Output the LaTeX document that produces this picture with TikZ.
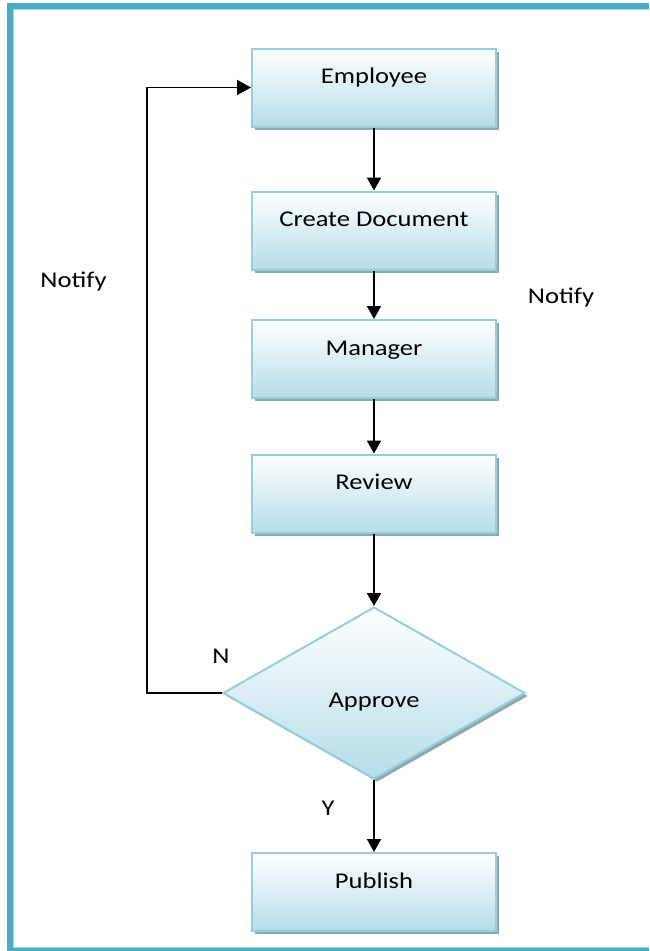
\documentclass[tikz,border=0pt]{standalone}
\usepackage{fontspec}
\setmainfont{Carlito}
\usetikzlibrary{arrows.meta,shadows,shapes.geometric}
\definecolor{framec}{HTML}{4BACC6}
\definecolor{framel}{HTML}{A8D8E4}
\definecolor{boxb}{HTML}{95CEDD}
\definecolor{boxbot}{HTML}{B6DDE8}
\definecolor{shc}{HTML}{8FA8AF}
\newcommand\wtxt[1]{\scalebox{1.18}[1]{#1}}
\begin{document}
\begin{tikzpicture}[x=1pt,y=-1pt,
  txt/.style={font=\fontsize{22.5}{27}\selectfont, inner sep=0pt, anchor=base},
  stepbox/.style={draw=boxb, line width=2pt, top color=white, bottom color=boxbot,
    minimum width=244pt, minimum height=78pt, inner sep=0pt,
    text height=10pt, text depth=18pt, font=\fontsize{22.5}{27}\selectfont,
    drop shadow={shadow xshift=3pt, shadow yshift=-3pt, opacity=1, fill=shc}},
  decision/.style={diamond, draw=boxb, line width=2pt, top color=white, bottom color=boxbot,
    minimum width=302pt, minimum height=172pt, inner sep=0pt,
    text height=30pt, text depth=2pt, font=\fontsize{22.5}{27}\selectfont,
    drop shadow={shadow xshift=3pt, shadow yshift=-3pt, opacity=1, fill=shc}},
  flow/.style={line width=2pt, -{Triangle[length=13pt,width=14pt]}},
  back/.style={line width=1.6pt, -{Triangle[length=14pt,width=15pt]}}]
\useasboundingbox (0,0) rectangle (649,951);
% frame (left, top and bottom bars; right side lies outside the picture)
\fill[framec] (7,3) rectangle (13,951);
\fill[framec] (7,3) rectangle (649,9);
\fill[framec] (7,948) rectangle (649,951);
\draw[framel, line width=1pt] (13.5,948) -- (13.5,9.5) -- (649,9.5);
\draw[framel, line width=1pt] (13.5,947.5) -- (649,947.5);
% nodes
\node[stepbox] (emp) at (374,87.5) {\wtxt{Employee}};
\node[stepbox] (create) at (374,230.5) {\wtxt{Create Document}};
\node[stepbox] (mgr) at (374,359) {\wtxt{Manager}};
\node[stepbox] (rev) at (374,493.5) {\wtxt{Review}};
\node[decision] (dia) at (374,693) {\wtxt{Approve}};
\node[stepbox] (pub) at (374,892) {\wtxt{Publish}};
% connectors
\draw[flow] (emp) -- (create);
\draw[flow] (create) -- (mgr);
\draw[flow] (mgr) -- (rev);
\draw[flow] (rev) -- (dia);
\draw[flow] (dia) -- (pub);
\coordinate (bend) at (147,400);
\draw[back] (dia.west) -| (bend) |- (emp.west);
% labels
\node[txt] (notifyl) at (73.5,287) {\wtxt{Notify}};
\node[txt] (notifyr) at (561,303) {\wtxt{Notify}};
\node[txt] (nlab) at (221,663) {\wtxt{N}};
\node[txt] (ylab) at (328,815) {\wtxt{Y}};
\end{tikzpicture}
\end{document}
